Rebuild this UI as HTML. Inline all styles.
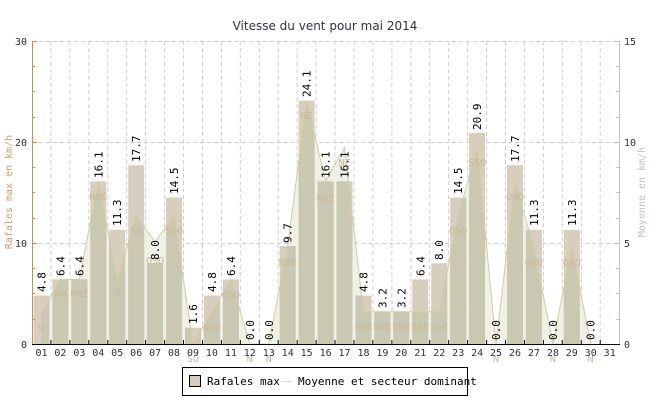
<!DOCTYPE html>
<html><head><meta charset="utf-8"><style>
html,body{margin:0;padding:0;background:#fff;}
svg{display:block;font-family:"DejaVu Sans Mono","Liberation Mono",monospace;}
</style></head><body>
<svg width="650" height="400" viewBox="0 0 650 400" xmlns="http://www.w3.org/2000/svg">
<defs>
<clipPath id="bars">
<rect x="33.5" y="295.5" width="16" height="48.5"/>
<rect x="52.4" y="279.4" width="16" height="64.6"/>
<rect x="71.4" y="279.4" width="16" height="64.6"/>
<rect x="90.3" y="181.4" width="16" height="162.6"/>
<rect x="109.2" y="229.9" width="16" height="114.1"/>
<rect x="128.2" y="165.2" width="16" height="178.8"/>
<rect x="147.1" y="263.2" width="16" height="80.8"/>
<rect x="166.1" y="197.5" width="16" height="146.5"/>
<rect x="185" y="327.8" width="16" height="16.2"/>
<rect x="203.9" y="295.5" width="16" height="48.5"/>
<rect x="222.9" y="279.4" width="16" height="64.6"/>
<rect x="279.7" y="246" width="16" height="98"/>
<rect x="298.6" y="100.6" width="16" height="243.4"/>
<rect x="317.6" y="181.4" width="16" height="162.6"/>
<rect x="336.5" y="181.4" width="16" height="162.6"/>
<rect x="355.5" y="295.5" width="16" height="48.5"/>
<rect x="374.4" y="311.7" width="16" height="32.3"/>
<rect x="393.3" y="311.7" width="16" height="32.3"/>
<rect x="412.3" y="279.4" width="16" height="64.6"/>
<rect x="431.2" y="263.2" width="16" height="80.8"/>
<rect x="450.2" y="197.5" width="16" height="146.5"/>
<rect x="469.1" y="132.9" width="16" height="211.1"/>
<rect x="507" y="165.2" width="16" height="178.8"/>
<rect x="525.9" y="229.9" width="16" height="114.1"/>
<rect x="563.8" y="229.9" width="16" height="114.1"/>
</clipPath>
</defs>
<text x="325" y="30" text-anchor="middle" font-family="DejaVu Sans,Liberation Sans,sans-serif" font-size="12" fill="#334">Vitesse du vent pour mai 2014</text>
<!-- grid -->
<g stroke="#cfcfcf" stroke-dasharray="4,3" stroke-width="1">
<line x1="32" y1="41.5" x2="619" y2="41.5"/>
<line x1="32" y1="142.5" x2="619" y2="142.5"/>
<line x1="32" y1="243.5" x2="619" y2="243.5"/>
<line x1="50.9" y1="41" x2="50.9" y2="344"/><line x1="69.9" y1="41" x2="69.9" y2="344"/><line x1="88.8" y1="41" x2="88.8" y2="344"/><line x1="107.8" y1="41" x2="107.8" y2="344"/><line x1="126.7" y1="41" x2="126.7" y2="344"/><line x1="145.6" y1="41" x2="145.6" y2="344"/><line x1="164.6" y1="41" x2="164.6" y2="344"/><line x1="183.5" y1="41" x2="183.5" y2="344"/><line x1="202.5" y1="41" x2="202.5" y2="344"/><line x1="221.4" y1="41" x2="221.4" y2="344"/><line x1="240.3" y1="41" x2="240.3" y2="344"/><line x1="259.3" y1="41" x2="259.3" y2="344"/><line x1="278.2" y1="41" x2="278.2" y2="344"/><line x1="297.2" y1="41" x2="297.2" y2="344"/><line x1="316.1" y1="41" x2="316.1" y2="344"/><line x1="335" y1="41" x2="335" y2="344"/><line x1="354" y1="41" x2="354" y2="344"/><line x1="372.9" y1="41" x2="372.9" y2="344"/><line x1="391.9" y1="41" x2="391.9" y2="344"/><line x1="410.8" y1="41" x2="410.8" y2="344"/><line x1="429.7" y1="41" x2="429.7" y2="344"/><line x1="448.7" y1="41" x2="448.7" y2="344"/><line x1="467.6" y1="41" x2="467.6" y2="344"/><line x1="486.6" y1="41" x2="486.6" y2="344"/><line x1="505.5" y1="41" x2="505.5" y2="344"/><line x1="524.4" y1="41" x2="524.4" y2="344"/><line x1="543.4" y1="41" x2="543.4" y2="344"/><line x1="562.3" y1="41" x2="562.3" y2="344"/><line x1="581.3" y1="41" x2="581.3" y2="344"/><line x1="600.2" y1="41" x2="600.2" y2="344"/>
</g>
<!-- fill polygon -->
<polygon fill="#eef2e6" points="41.47,344 41.47,313.7 60.41,279.4 79.35,279.4 98.29,181.4 117.23,279.4 136.17,215.7 155.11,242 174.05,215.7 192.99,344 211.93,311.7 230.87,279.4 249.81,344 268.75,344 287.69,246 306.63,100.6 325.57,181.4 344.51,148 363.45,311.7 382.39,311.7 401.33,311.7 420.27,311.7 439.21,311.7 458.15,215.7 477.09,148 496.03,344 514.97,182 533.91,248 552.85,344 571.79,247 590.73,344"/>
<!-- bars -->
<rect x="0" y="0" width="650" height="400" fill="#d7cebe" clip-path="url(#bars)"/>
<polygon clip-path="url(#bars)" fill="#cbc8b1" points="41.47,344 41.47,313.7 60.41,279.4 79.35,279.4 98.29,181.4 117.23,279.4 136.17,215.7 155.11,242 174.05,215.7 192.99,344 211.93,311.7 230.87,279.4 249.81,344 268.75,344 287.69,246 306.63,100.6 325.57,181.4 344.51,148 363.45,311.7 382.39,311.7 401.33,311.7 420.27,311.7 439.21,311.7 458.15,215.7 477.09,148 496.03,344 514.97,182 533.91,248 552.85,344 571.79,247 590.73,344"/>
<polyline fill="none" stroke="#d8c9a0" stroke-width="1" points="41.47,313.7 60.41,279.4 79.35,279.4 98.29,181.4 117.23,279.4 136.17,215.7 155.11,242 174.05,215.7 192.99,344 211.93,311.7 230.87,279.4 249.81,344 268.75,344 287.69,246 306.63,100.6 325.57,181.4 344.51,148 363.45,311.7 382.39,311.7 401.33,311.7 420.27,311.7 439.21,311.7 458.15,215.7 477.09,148 496.03,344 514.97,182 533.91,248 552.85,344 571.79,247 590.73,344"/>
<!-- direction labels -->
<g font-size="10" fill="#c9b99a" text-anchor="middle">
<text x="41.5" y="331">O</text><text x="60.4" y="297">NO</text><text x="79.4" y="297">NNE</text><text x="98.3" y="200">NNE</text><text x="117.2" y="297">O</text><text x="136.2" y="234">SO</text><text x="155.1" y="264">OSO</text><text x="174" y="234">SSO</text><text x="193" y="362">SO</text><text x="211.9" y="331">OSO</text><text x="230.9" y="298">OSO</text><text x="249.8" y="362">N</text><text x="268.8" y="362">N</text><text x="287.7" y="266">NNE</text><text x="306.6" y="119">NE</text><text x="325.6" y="201">NNE</text><text x="344.5" y="166">NE</text><text x="363.5" y="330">ENE</text><text x="382.4" y="330">NNE</text><text x="401.3" y="330">ENE</text><text x="420.3" y="330">SSE</text><text x="439.2" y="330">SSE</text><text x="458.2" y="234">OSO</text><text x="477.1" y="166">SSO</text><text x="496" y="362">N</text><text x="515" y="200">ONO</text><text x="533.9" y="266">OSO</text><text x="552.9" y="362">N</text><text x="571.8" y="266">ONO</text><text x="590.7" y="362">N</text>
</g>
<!-- value labels -->
<g font-size="11" fill="#000">
<text transform="translate(45.5,292) rotate(-90)">4.8</text>
<text transform="translate(64.4,276) rotate(-90)">6.4</text>
<text transform="translate(83.4,276) rotate(-90)">6.4</text>
<text transform="translate(102.3,178) rotate(-90)">16.1</text>
<text transform="translate(121.2,226) rotate(-90)">11.3</text>
<text transform="translate(140.2,162) rotate(-90)">17.7</text>
<text transform="translate(159.1,260) rotate(-90)">8.0</text>
<text transform="translate(178.1,194) rotate(-90)">14.5</text>
<text transform="translate(197,324) rotate(-90)">1.6</text>
<text transform="translate(215.9,292) rotate(-90)">4.8</text>
<text transform="translate(234.9,276) rotate(-90)">6.4</text>
<text transform="translate(253.8,340) rotate(-90)">0.0</text>
<text transform="translate(272.8,340) rotate(-90)">0.0</text>
<text transform="translate(291.7,243) rotate(-90)">9.7</text>
<text transform="translate(310.6,97) rotate(-90)">24.1</text>
<text transform="translate(329.6,178) rotate(-90)">16.1</text>
<text transform="translate(348.5,178) rotate(-90)">16.1</text>
<text transform="translate(367.5,292) rotate(-90)">4.8</text>
<text transform="translate(386.4,308) rotate(-90)">3.2</text>
<text transform="translate(405.3,308) rotate(-90)">3.2</text>
<text transform="translate(424.3,276) rotate(-90)">6.4</text>
<text transform="translate(443.2,260) rotate(-90)">8.0</text>
<text transform="translate(462.2,194) rotate(-90)">14.5</text>
<text transform="translate(481.1,130) rotate(-90)">20.9</text>
<text transform="translate(500,340) rotate(-90)">0.0</text>
<text transform="translate(519,162) rotate(-90)">17.7</text>
<text transform="translate(537.9,226) rotate(-90)">11.3</text>
<text transform="translate(556.9,340) rotate(-90)">0.0</text>
<text transform="translate(575.8,226) rotate(-90)">11.3</text>
<text transform="translate(594.7,340) rotate(-90)">0.0</text>
</g>
<!-- axes -->
<line x1="32.5" y1="41" x2="32.5" y2="344" stroke="#c8924a"/>
<g stroke="#c8924a"><line x1="32" y1="41.5" x2="37" y2="41.5"/><line x1="32" y1="66.5" x2="35" y2="66.5"/><line x1="32" y1="91.5" x2="35" y2="91.5"/><line x1="32" y1="117.5" x2="35" y2="117.5"/><line x1="32" y1="142.5" x2="37" y2="142.5"/><line x1="32" y1="167.5" x2="35" y2="167.5"/><line x1="32" y1="192.5" x2="35" y2="192.5"/><line x1="32" y1="218.5" x2="35" y2="218.5"/><line x1="32" y1="243.5" x2="37" y2="243.5"/><line x1="32" y1="268.5" x2="35" y2="268.5"/><line x1="32" y1="293.5" x2="35" y2="293.5"/><line x1="32" y1="319.5" x2="35" y2="319.5"/></g>
<line x1="619.5" y1="41" x2="619.5" y2="344" stroke="#c8c0b0"/>
<g stroke="#c8c0b0"><line x1="614" y1="41.5" x2="619" y2="41.5"/><line x1="616" y1="66.5" x2="619" y2="66.5"/><line x1="616" y1="91.5" x2="619" y2="91.5"/><line x1="616" y1="117.5" x2="619" y2="117.5"/><line x1="614" y1="142.5" x2="619" y2="142.5"/><line x1="616" y1="167.5" x2="619" y2="167.5"/><line x1="616" y1="192.5" x2="619" y2="192.5"/><line x1="616" y1="218.5" x2="619" y2="218.5"/><line x1="614" y1="243.5" x2="619" y2="243.5"/><line x1="616" y1="268.5" x2="619" y2="268.5"/><line x1="616" y1="293.5" x2="619" y2="293.5"/><line x1="616" y1="319.5" x2="619" y2="319.5"/></g>
<line x1="32" y1="344.5" x2="620" y2="344.5" stroke="#000"/>
<g stroke="#000"><line x1="50.9" y1="340" x2="50.9" y2="344"/><line x1="69.9" y1="340" x2="69.9" y2="344"/><line x1="88.8" y1="340" x2="88.8" y2="344"/><line x1="107.8" y1="340" x2="107.8" y2="344"/><line x1="126.7" y1="340" x2="126.7" y2="344"/><line x1="145.6" y1="340" x2="145.6" y2="344"/><line x1="164.6" y1="340" x2="164.6" y2="344"/><line x1="183.5" y1="340" x2="183.5" y2="344"/><line x1="202.5" y1="340" x2="202.5" y2="344"/><line x1="221.4" y1="340" x2="221.4" y2="344"/><line x1="240.3" y1="340" x2="240.3" y2="344"/><line x1="259.3" y1="340" x2="259.3" y2="344"/><line x1="278.2" y1="340" x2="278.2" y2="344"/><line x1="297.2" y1="340" x2="297.2" y2="344"/><line x1="316.1" y1="340" x2="316.1" y2="344"/><line x1="335" y1="340" x2="335" y2="344"/><line x1="354" y1="340" x2="354" y2="344"/><line x1="372.9" y1="340" x2="372.9" y2="344"/><line x1="391.9" y1="340" x2="391.9" y2="344"/><line x1="410.8" y1="340" x2="410.8" y2="344"/><line x1="429.7" y1="340" x2="429.7" y2="344"/><line x1="448.7" y1="340" x2="448.7" y2="344"/><line x1="467.6" y1="340" x2="467.6" y2="344"/><line x1="486.6" y1="340" x2="486.6" y2="344"/><line x1="505.5" y1="340" x2="505.5" y2="344"/><line x1="524.4" y1="340" x2="524.4" y2="344"/><line x1="543.4" y1="340" x2="543.4" y2="344"/><line x1="562.3" y1="340" x2="562.3" y2="344"/><line x1="581.3" y1="340" x2="581.3" y2="344"/><line x1="600.2" y1="340" x2="600.2" y2="344"/></g>
<!-- axis labels -->
<g font-size="10" fill="#333" text-anchor="end">
<text x="27" y="45">30</text><text x="27" y="146">20</text><text x="27" y="247">10</text><text x="27" y="348">0</text>
</g>
<g font-size="10" fill="#333">
<text x="624" y="45">15</text><text x="624" y="146">10</text><text x="624" y="247">5</text><text x="624" y="348">0</text>
</g>
<g font-size="10" fill="#333" text-anchor="middle">
<text x="41.5" y="356">01</text><text x="60.4" y="356">02</text><text x="79.4" y="356">03</text><text x="98.3" y="356">04</text><text x="117.2" y="356">05</text><text x="136.2" y="356">06</text><text x="155.1" y="356">07</text><text x="174" y="356">08</text><text x="193" y="356">09</text><text x="211.9" y="356">10</text><text x="230.9" y="356">11</text><text x="249.8" y="356">12</text><text x="268.8" y="356">13</text><text x="287.7" y="356">14</text><text x="306.6" y="356">15</text><text x="325.6" y="356">16</text><text x="344.5" y="356">17</text><text x="363.5" y="356">18</text><text x="382.4" y="356">19</text><text x="401.3" y="356">20</text><text x="420.3" y="356">21</text><text x="439.2" y="356">22</text><text x="458.2" y="356">23</text><text x="477.1" y="356">24</text><text x="496" y="356">25</text><text x="515" y="356">26</text><text x="533.9" y="356">27</text><text x="552.9" y="356">28</text><text x="571.8" y="356">29</text><text x="590.7" y="356">30</text><text x="609.7" y="356">31</text>
</g>
<text transform="translate(12,192) rotate(-90)" text-anchor="middle" font-size="10" fill="#c8a070">Rafales max en km/h</text>
<text transform="translate(645,192) rotate(-90)" text-anchor="middle" font-size="10" fill="#c8c0b0">Moyenne en km/h</text>
<!-- legend -->
<rect x="182.5" y="367.5" width="285" height="28" fill="#fff" stroke="#000"/>
<rect x="189.5" y="375.5" width="11" height="11" fill="#d7cebe" stroke="#000"/>
<text x="207" y="385" font-size="11" fill="#000">Rafales max</text>
<line x1="282" y1="381.5" x2="292" y2="381.5" stroke="#e8dcc0"/>
<text x="298" y="385" font-size="11" fill="#000">Moyenne et secteur dominant</text>
</svg>
</body></html>
